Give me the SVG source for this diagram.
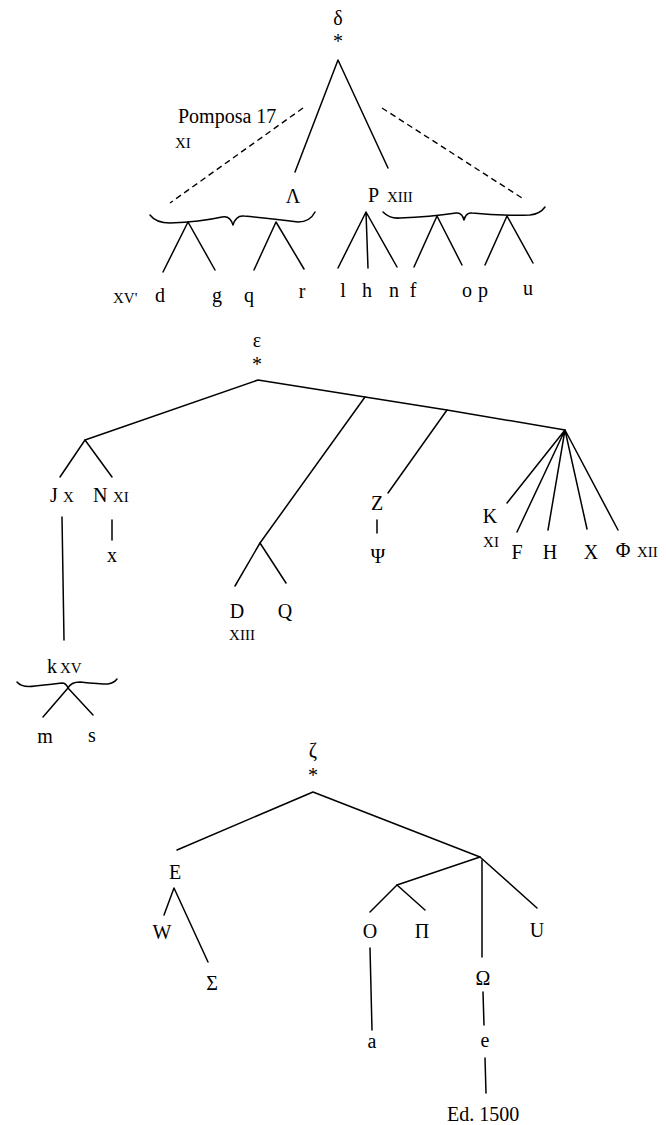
<svg xmlns="http://www.w3.org/2000/svg" width="666" height="1125" viewBox="0 0 666 1125">
  <style>
    .bg { fill: #ffffff; }
    .ln { fill: none; stroke: #000; stroke-width: 1.5; stroke-linecap: round; stroke-linejoin: round; }
    .dash { fill: none; stroke: #000; stroke-width: 1.4; stroke-dasharray: 6 4; }
    text { font-family: "Liberation Serif", "Times New Roman", serif; fill: #000; }
    .t { font-size: 20px; text-anchor: middle; }
    .ts { font-size: 20px; }
    .sc { font-size: 15px; }
    .scm { font-size: 15px; text-anchor: middle; }
  </style>
  <rect class="bg" x="0" y="0" width="666" height="1125"/>

  <!-- connectors -->
  <g id="connectors">
    <!-- delta family -->
    <path class="ln" d="M295,172 L338,60 L388,168"/>
    <path class="dash" d="M303,108 L170,203"/>
    <path class="dash" d="M382,108 L522,198"/>
    <path class="ln" d="M150,215 Q156,223 170,223 Q200,222 222,217 Q230,215 233,225 Q236,215 244,216 Q275,219 298,222 Q310,222 315,212"/>
    <path class="ln" d="M163,272 L188,222 L215,270"/>
    <path class="ln" d="M254,270 L276,222 L304,269"/>
    <path class="ln" d="M338,268 L366,212 L397,267 M366,212 L368,268"/>
    <path class="ln" d="M383,212 Q390,219 400,218 Q430,217 456,213 Q462,212 464,220 Q466,212 472,213 Q500,216 530,215 Q540,214 545,207"/>
    <path class="ln" d="M414,267 L437,216 L462,265"/>
    <path class="ln" d="M485,265 L507,216 L533,263"/>

    <!-- epsilon family -->
    <path class="ln" d="M85,440 L258,380 L365,397 L447,410 L565,430"/>
    <path class="ln" d="M60,477 L85,440 L112,477"/>
    <path class="ln" d="M62,517 L64,640"/>
    <path class="ln" d="M112,520 L112,540"/>
    <path class="ln" d="M17,682 Q22,688 35,686 Q55,684 62,683 Q66,683 68,688 Q71,682 80,682 Q100,684 108,684 Q114,683 117,679"/>
    <path class="ln" d="M43,717 L68,688 L93,715"/>
    <path class="ln" d="M365,397 L260,543"/>
    <path class="ln" d="M235,586 L260,543 L286,583"/>
    <path class="ln" d="M447,410 L388,493"/>
    <path class="ln" d="M377,520 L377,533"/>
    <path class="ln" d="M565,430 L507,503 M565,430 L517,532 M565,430 L548,530 M565,430 L587,529 M565,430 L618,530"/>

    <!-- zeta family -->
    <path class="ln" d="M177,850 L313,792 L480,857"/>
    <path class="ln" d="M164,915 L174,888 L208,962"/>
    <path class="ln" d="M480,857 L397,885 M480,857 L537,908"/>
    <path class="ln" d="M482,860 L482,957"/>
    <path class="ln" d="M370,912 L397,885 L425,910"/>
    <path class="ln" d="M370,948 L372,1030"/>
    <path class="ln" d="M483,992 L484,1025"/>
    <path class="ln" d="M485,1058 L486,1093"/>
  </g>

  <!-- delta -->
  <g id="delta">
    <text class="t" x="338" y="25">δ</text>
    <text class="t" x="338" y="48">*</text>
  </g>
  <g id="pomposa">
    <text class="ts" x="178" y="123">Pomposa 17</text>
    <text class="sc" x="175" y="148">XI</text>
  </g>
  <g id="lambda"><text class="t" x="293" y="203">Λ</text></g>
  <g id="P">
    <text class="ts" x="368" y="202">P</text>
    <text class="sc" x="387" y="202">XIII</text>
  </g>
  <g id="xv1"><text class="sc" x="113" y="303">XV'</text></g>
  <g id="d"><text class="t" x="160" y="302">d</text></g>
  <g id="g"><text class="t" x="217" y="302">g</text></g>
  <g id="q"><text class="t" x="249" y="302">q</text></g>
  <g id="r"><text class="t" x="302" y="298">r</text></g>
  <g id="l"><text class="t" x="343" y="297">l</text></g>
  <g id="h"><text class="t" x="367" y="297">h</text></g>
  <g id="n"><text class="t" x="394" y="297">n</text></g>
  <g id="f"><text class="t" x="413" y="297">f</text></g>
  <g id="o"><text class="t" x="467" y="297">o</text></g>
  <g id="p"><text class="t" x="483" y="297">p</text></g>
  <g id="u"><text class="t" x="528" y="295">u</text></g>

  <!-- epsilon -->
  <g id="epsilon">
    <text class="t" x="257" y="347">ε</text>
    <text class="t" x="257" y="371">*</text>
  </g>
  <g id="J">
    <text class="ts" x="50" y="502">J</text>
    <text class="sc" x="63" y="502">X</text>
  </g>
  <g id="N">
    <text class="ts" x="93" y="502">N</text>
    <text class="sc" x="113" y="502">XI</text>
  </g>
  <g id="x"><text class="t" x="112" y="562">x</text></g>
  <g id="k">
    <text class="ts" x="47" y="673">k</text>
    <text class="sc" x="60" y="673">XV</text>
  </g>
  <g id="m"><text class="t" x="45" y="743">m</text></g>
  <g id="s"><text class="t" x="92" y="742">s</text></g>
  <g id="D">
    <text class="t" x="237" y="618">D</text>
    <text class="scm" x="242" y="640">XIII</text>
  </g>
  <g id="Q"><text class="t" x="285" y="618">Q</text></g>
  <g id="Z"><text class="t" x="377" y="510">Z</text></g>
  <g id="Psi"><text class="t" x="378" y="563">Ψ</text></g>
  <g id="K">
    <text class="t" x="490" y="523">K</text>
    <text class="scm" x="491" y="547">XI</text>
  </g>
  <g id="F"><text class="t" x="517" y="559">F</text></g>
  <g id="H"><text class="t" x="550" y="559">H</text></g>
  <g id="X"><text class="t" x="591" y="559">X</text></g>
  <g id="Phi">
    <text class="t" x="623" y="557">Φ</text>
    <text class="sc" x="637" y="557">XII</text>
  </g>

  <!-- zeta -->
  <g id="zeta">
    <text class="t" x="313" y="757">ζ</text>
    <text class="t" x="313" y="782">*</text>
  </g>
  <g id="E"><text class="t" x="175" y="879">E</text></g>
  <g id="W"><text class="t" x="162" y="939">W</text></g>
  <g id="Sigma"><text class="t" x="212" y="990">Σ</text></g>
  <g id="O"><text class="t" x="370" y="938">O</text></g>
  <g id="Pi"><text class="t" x="422" y="938">Π</text></g>
  <g id="U"><text class="t" x="537" y="937">U</text></g>
  <g id="a"><text class="t" x="372" y="1048">a</text></g>
  <g id="Omega"><text class="t" x="483" y="985">Ω</text></g>
  <g id="e"><text class="t" x="485" y="1047">e</text></g>
  <g id="ed1500"><text class="ts" x="447" y="1121">Ed. 1500</text></g>
</svg>
